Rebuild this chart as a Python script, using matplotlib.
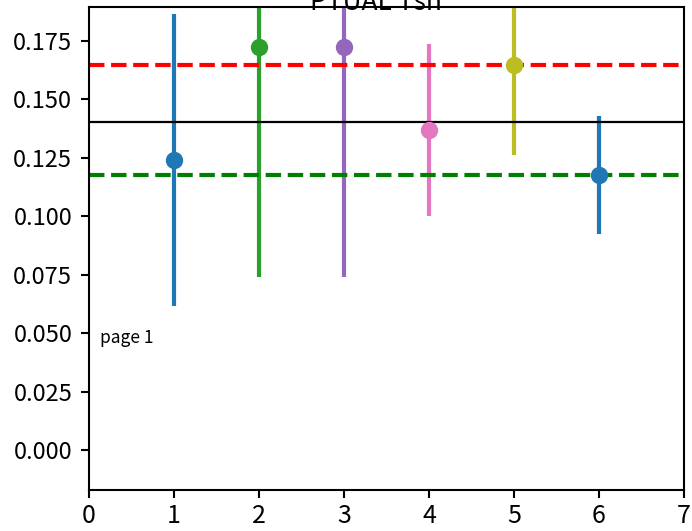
import matplotlib
matplotlib.use('Agg')
import matplotlib.pyplot as plt

plt.rcParams['font.family'] = ['Noto Sans CJK JP', 'DejaVu Sans']

# point estimates and their errors
xs = [1, 2, 3, 4, 5, 6]
ys = [0.1241, 0.1724, 0.1724, 0.1369, 0.1647, 0.1177]
errs = [0.0625, 0.0984, 0.0984, 0.0368, 0.0385, 0.0252]
colors = ['tab:blue', 'tab:green', 'tab:purple', 'tab:pink', 'tab:olive', 'tab:blue']

upper_ref = 0.1647
lower_ref = 0.1177
mean_ref = 0.1403

fig = plt.figure(figsize=(6.92, 5.31), dpi=100)
ax = fig.add_axes([89/692, 41/531, 595/692, 483/531])

for x, y, e, c in zip(xs, ys, errs, colors):
    ax.errorbar(x, y, yerr=e, fmt='o', color=c, ms=11.5, elinewidth=3)

ax.axhline(upper_ref, color='red', ls='--', lw=3)
ax.axhline(lower_ref, color='green', ls='--', lw=3)
ax.axhline(mean_ref, color='black', lw=1.6)

ax.text(0.018, 0.315, 'page 1', transform=ax.transAxes, fontsize=12.5, va='center')
ax.text(0.483, 0.994, 'PTUAL Tsn', transform=ax.transAxes, fontsize=19,
        ha='center', va='baseline')

ax.set_xlim(0, 7)
ax.set_ylim(-0.0171, 0.1895)
ax.set_yticks([0, 0.025, 0.05, 0.075, 0.1, 0.125, 0.15, 0.175])
ax.set_yticklabels(['0.000', '0.025', '0.050', '0.075', '0.100', '0.125', '0.150', '0.175'])
ax.tick_params(axis='y', labelsize=17, length=6, width=1.5, pad=6)
ax.tick_params(axis='x', labelsize=18, length=6, width=1.5)
for s in ax.spines.values():
    s.set_linewidth(1.5)

fig.savefig('out.png', dpi=100)
